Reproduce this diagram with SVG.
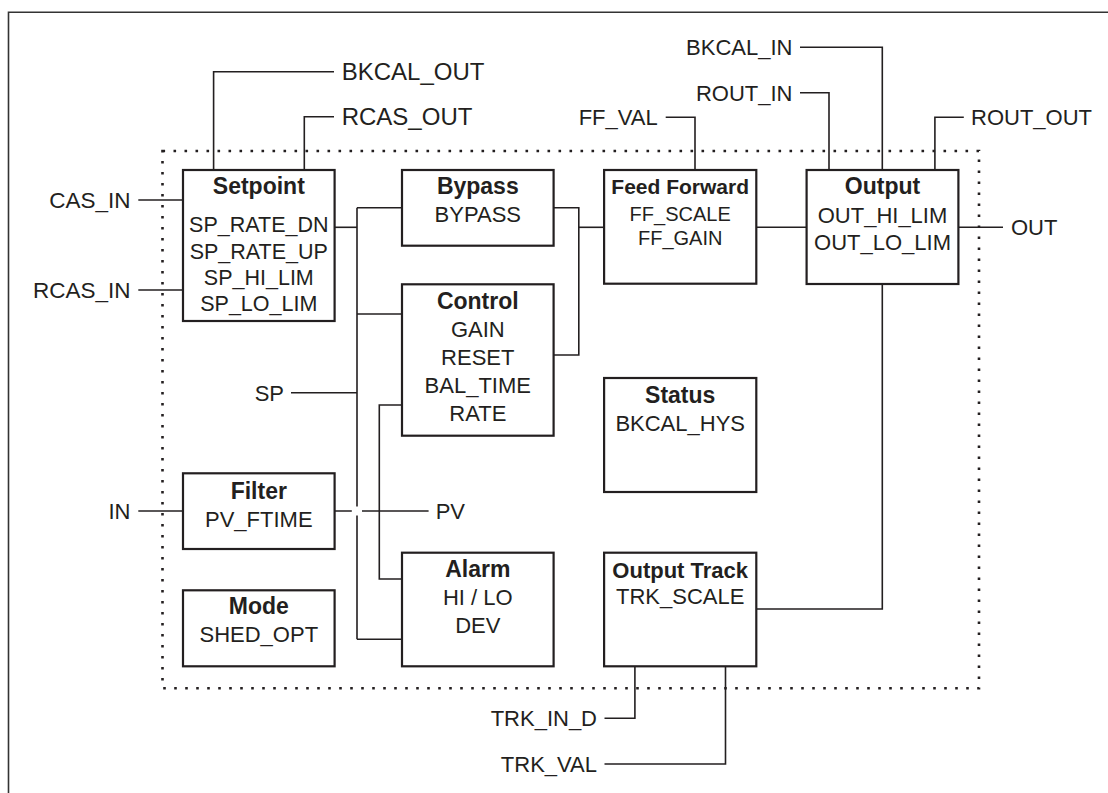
<svg xmlns="http://www.w3.org/2000/svg" width="1108" height="793" viewBox="0 0 1108 793">
<style>
  text{font-family:"Liberation Sans",Arial,Helvetica,sans-serif;fill:#231f20;font-size:22px}
  .t{font-weight:bold;font-size:23px;text-anchor:middle}
  .c{text-anchor:middle}
  .e{text-anchor:end}
  .box{fill:#fff;stroke:#231f20;stroke-width:2.2}
  .ln{fill:none;stroke:#231f20;stroke-width:1.6}
</style>
<rect width="1108" height="793" fill="#fff"/>
<path d="M8.5,793 V12.3 H1108" fill="none" stroke="#333" stroke-width="1.6"/>
<rect x="162.5" y="151" width="816.5" height="537.3" fill="none" stroke="#231f20" stroke-width="2.6" stroke-dasharray="2.6 8.4"/>

<g id="connectors" class="ln">
  <path d="M213.6,170 V71.7 H334"/>
  <path d="M304.3,170 V116.7 H334"/>
  <path d="M138.3,200 H183"/>
  <path d="M138.3,290 H183"/>
  <path d="M334.6,227.3 H357"/>
  <path d="M357,207.7 V506.5 M357,515.5 V639.3"/>
  <path d="M357,207.7 H402"/>
  <path d="M357,314 H402"/>
  <path d="M291,392.7 H357"/>
  <path d="M357,639.3 H402"/>
  <path d="M402,405 H379.3 V579 H402"/>
  <path d="M334.6,511 H351.8 M362,511 H428.6"/>
  <path d="M138.3,511 H183"/>
  <path d="M553.6,207.7 H578.8 V355 H553.6"/>
  <path d="M578.8,227.3 H604"/>
  <path d="M756.3,227.3 H806.6"/>
  <path d="M695,170 V117.3 H665.7"/>
  <path d="M829,170 V92.7 H800"/>
  <path d="M882.3,170 V47.3 H800"/>
  <path d="M934.9,170 V117.3 H963.8"/>
  <path d="M958.4,227.3 H1003"/>
  <path d="M882.3,284 V609 H756.3"/>
  <path d="M634.9,666.3 V718.3 H604.5"/>
  <path d="M725.5,666.3 V764 H604.5"/>
</g>

<g id="labels">
  <text x="341.7" y="80" style="font-size:24px">BKCAL_OUT</text>
  <text x="341.7" y="125" style="font-size:24px">RCAS_OUT</text>
  <text class="e" x="130.5" y="207.5" style="font-size:22.5px">CAS_IN</text>
  <text class="e" x="130.5" y="297.5" style="font-size:22.5px">RCAS_IN</text>
  <text class="e" x="284" y="400.5">SP</text>
  <text class="e" x="130.5" y="519">IN</text>
  <text x="435.7" y="519">PV</text>
  <text class="e" x="657.7" y="124.5">FF_VAL</text>
  <text class="e" x="792.5" y="100.5">ROUT_IN</text>
  <text class="e" x="792.5" y="55">BKCAL_IN</text>
  <text x="971" y="124.5">ROUT_OUT</text>
  <text x="1011" y="235">OUT</text>
  <text class="e" x="597" y="726">TRK_IN_D</text>
  <text class="e" x="597" y="772">TRK_VAL</text>
</g>

<g id="setpoint">
  <rect class="box" x="183" y="170" width="151.6" height="151"/>
  <text class="t" x="258.8" y="193.5">Setpoint</text>
  <text class="c" x="258.8" y="232" style="font-size:21.5px">SP_RATE_DN</text>
  <text class="c" x="258.8" y="258.5" style="font-size:21.5px">SP_RATE_UP</text>
  <text class="c" x="258.8" y="285" style="font-size:21.5px">SP_HI_LIM</text>
  <text class="c" x="258.8" y="311" style="font-size:21.5px">SP_LO_LIM</text>
</g>
<g id="bypass">
  <rect class="box" x="402" y="170" width="151.6" height="75.7"/>
  <text class="t" x="477.8" y="194">Bypass</text>
  <text class="c" x="477.8" y="221.7">BYPASS</text>
</g>
<g id="control">
  <rect class="box" x="402" y="284.3" width="151.6" height="151.4"/>
  <text class="t" x="477.8" y="308.5">Control</text>
  <text class="c" x="477.8" y="337">GAIN</text>
  <text class="c" x="477.8" y="365">RESET</text>
  <text class="c" x="477.8" y="393">BAL_TIME</text>
  <text class="c" x="477.8" y="421">RATE</text>
</g>
<g id="filter">
  <rect class="box" x="183" y="473.3" width="151.6" height="75.7"/>
  <text class="t" x="258.8" y="499">Filter</text>
  <text class="c" x="258.8" y="527">PV_FTIME</text>
</g>
<g id="mode">
  <rect class="box" x="183" y="590.3" width="151.6" height="76"/>
  <text class="t" x="258.8" y="613.5">Mode</text>
  <text class="c" x="258.8" y="642">SHED_OPT</text>
</g>
<g id="alarm">
  <rect class="box" x="402" y="552.7" width="151.6" height="113.6"/>
  <text class="t" x="477.8" y="577">Alarm</text>
  <text class="c" x="477.8" y="605">HI / LO</text>
  <text class="c" x="477.8" y="633">DEV</text>
</g>
<g id="feedforward">
  <rect class="box" x="604.1" y="170" width="152.2" height="113.7"/>
  <text class="t" x="680.2" y="193.5" style="font-size:21px">Feed Forward</text>
  <text class="c" x="680.2" y="220.7" style="font-size:20px">FF_SCALE</text>
  <text class="c" x="680.2" y="245" style="font-size:20px">FF_GAIN</text>
</g>
<g id="output">
  <rect class="box" x="806.6" y="170" width="151.8" height="114"/>
  <text class="t" x="882.5" y="193.5">Output</text>
  <text class="c" x="882.5" y="222.7">OUT_HI_LIM</text>
  <text class="c" x="882.5" y="250">OUT_LO_LIM</text>
</g>
<g id="status">
  <rect class="box" x="604.1" y="378" width="152.2" height="114"/>
  <text class="t" x="680.2" y="402.7">Status</text>
  <text class="c" x="680.2" y="430.7">BKCAL_HYS</text>
</g>
<g id="outputtrack">
  <rect class="box" x="604.1" y="552.7" width="152.2" height="113.6"/>
  <text class="t" x="680.2" y="577.7" style="font-size:22px">Output Track</text>
  <text class="c" x="680.2" y="604">TRK_SCALE</text>
</g>
</svg>
